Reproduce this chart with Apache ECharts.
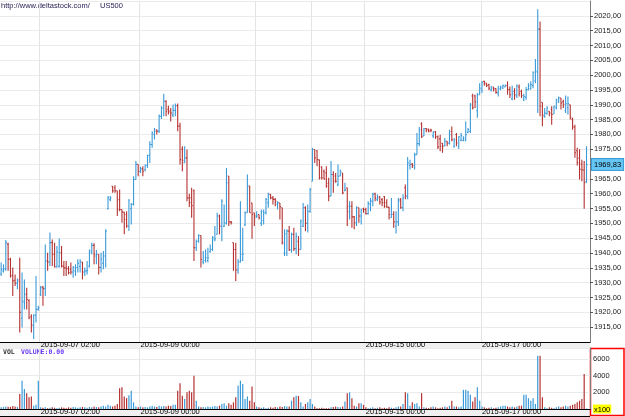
<!DOCTYPE html>
<html>
<head>
<meta charset="utf-8">
<script src="https://cdn.jsdelivr.net/npm/echarts/dist/echarts.min.js"></script>
<style>
  html, body { margin: 0; padding: 0; background: #fff; }
  #chart { width: 625px; height: 417px; }
</style>
</head>
<body>
<div id="chart"></div>
<script>
// hourly US500 bars: [open, close, low, high]
const ohlc = [
  [1933.0,1934.5,1932.3,1936.8],[1934.0,1934.8,1933.4,1936.2],[1934.5,1943.5,1934.0,1944.4],[1943.0,1937.9,1934.0,1943.5],
  [1937.9,1932.3,1931.7,1938.4],[1932.5,1930.6,1925.5,1935.1],[1930.8,1929.8,1928.9,1932.8],[1929.8,1930.5,1927.8,1931.4],
  [1931.0,1920.0,1913.2,1938.4],[1918.0,1923.8,1914.9,1933.4],[1923.5,1926.1,1921.0,1931.1],[1926.1,1924.4,1921.0,1928.3],
  [1924.0,1918.2,1917.7,1924.4],[1918.5,1915.7,1913.2,1919.4],[1915.5,1919.0,1911.0,1919.4],[1919.0,1921.0,1916.6,1932.3],
  [1921.0,1921.5,1920.5,1922.2],[1926.0,1928.3,1925.5,1928.9],[1928.5,1928.0,1922.2,1928.9],[1928.0,1937.3,1925.5,1942.9],
  [1937.3,1937.0,1934.0,1940.1],[1937.0,1943.5,1935.6,1946.9],[1943.5,1939.6,1935.6,1944.6],[1939.6,1935.4,1935.1,1943.5],
  [1935.4,1940.3,1935.0,1942.4],[1935.5,1940.1,1935.1,1944.9],[1940.1,1935.6,1935.1,1942.4],[1935.6,1935.0,1932.3,1937.3],
  [1935.0,1934.7,1932.3,1937.3],[1934.7,1933.4,1932.8,1935.6],[1934.5,1933.6,1932.8,1936.8],[1933.6,1935.1,1931.7,1935.6],
  [1934.0,1935.1,1932.3,1936.2],[1935.1,1936.5,1933.4,1937.9],[1935.5,1937.0,1933.4,1937.9],[1937.0,1933.6,1931.1,1937.0],
  [1933.6,1934.0,1932.3,1935.1],[1934.0,1934.3,1932.8,1937.3],[1935.5,1940.7,1935.1,1941.2],[1940.0,1942.6,1939.6,1943.5],
  [1942.6,1939.6,1936.2,1943.3],[1939.0,1939.6,1936.2,1941.0],[1939.6,1935.1,1932.8,1939.6],[1935.1,1937.9,1933.4,1940.1],
  [1936.5,1939.0,1934.5,1940.7],[1939.0,1947.4,1935.1,1948.0],[1955.0,1958.6,1954.7,1959.2],[1958.0,1958.6,1957.5,1959.2],
  [1962.5,1961.0,1960.3,1962.6],[1962.0,1961.0,1960.3,1962.9],[1961.0,1954.7,1952.5,1961.0],[1958.0,1954.7,1954.1,1961.4],
  [1954.7,1953.8,1950.2,1954.7],[1953.8,1951.3,1946.3,1953.8],[1953.0,1949.1,1948.5,1954.1],[1949.1,1957.9,1947.4,1958.1],
  [1955.0,1956.4,1949.6,1956.9],[1956.4,1964.8,1956.0,1965.9],[1964.8,1969.9,1964.8,1971.0],[1969.9,1967.6,1965.9,1969.9],
  [1967.5,1968.4,1967.0,1969.1],[1968.4,1967.6,1965.9,1969.3],[1968.0,1969.6,1967.6,1969.9],[1969.6,1972.9,1968.7,1973.2],
  [1972.9,1976.6,1970.4,1977.7],[1976.6,1980.5,1975.5,1981.1],[1980.0,1981.1,1978.3,1982.2],[1981.6,1981.1,1980.0,1981.6],
  [1981.1,1986.1,1980.5,1986.7],[1986.1,1988.9,1985.2,1989.5],[1988.9,1991.2,1986.1,1993.7],[1991.2,1987.8,1986.1,1991.5],
  [1988.5,1987.6,1986.7,1989.7],[1988.0,1987.2,1984.4,1988.9],[1986.5,1988.1,1985.9,1990.1],[1988.1,1989.7,1986.1,1990.4],
  [1989.7,1982.8,1981.1,1990.4],[1982.8,1971.5,1969.9,1983.9],[1975.0,1971.3,1967.6,1976.0],[1970.5,1972.1,1970.4,1976.0],
  [1972.1,1958.6,1957.5,1974.9],[1958.6,1957.0,1955.5,1960.0],[1958.6,1956.0,1951.9,1962.0],[1961.0,1941.8,1937.3,1961.4],
  [1941.8,1944.0,1940.7,1944.6],[1944.0,1945.9,1943.5,1946.3],[1945.9,1937.9,1935.1,1945.9],[1937.0,1938.4,1936.2,1940.7],
  [1937.5,1938.4,1936.8,1941.2],[1937.5,1938.4,1936.8,1941.8],[1940.5,1941.2,1940.1,1942.9],[1941.2,1945.2,1940.7,1945.7],
  [1944.5,1944.8,1944.0,1949.1],[1946.3,1952.5,1946.3,1953.6],[1952.5,1949.1,1946.3,1953.0],[1949.1,1957.5,1944.0,1958.1],
  [1949.0,1950.2,1948.8,1956.4],[1950.0,1963.7,1949.6,1968.7],[1966.0,1950.5,1949.1,1966.0],[1950.5,1950.2,1949.6,1950.8],
  [1943.5,1941.2,1934.0,1943.5],[1941.2,1934.3,1930.6,1943.5],[1934.3,1937.0,1933.0,1938.0],[1937.0,1939.6,1936.8,1957.5],
  [1937.5,1939.6,1937.3,1948.5],[1949.5,1953.6,1949.1,1954.1],[1953.6,1962.6,1953.6,1966.5],[1962.6,1953.6,1953.6,1962.6],
  [1956.9,1953.0,1944.8,1956.9],[1953.6,1952.5,1949.1,1953.6],[1952.0,1952.5,1951.9,1954.1],[1953.0,1951.9,1951.3,1953.0],
  [1950.0,1954.1,1949.1,1954.7],[1951.0,1953.6,1949.6,1954.7],[1953.6,1958.1,1953.0,1958.6],[1957.0,1959.8,1955.3,1960.3],
  [1959.8,1958.6,1958.1,1959.8],[1958.6,1958.1,1956.4,1959.2],[1958.1,1957.5,1955.8,1958.6],[1956.5,1957.0,1954.7,1957.5],
  [1956.9,1955.6,1951.3,1956.9],[1955.3,1943.5,1942.9,1955.3],[1940.0,1946.5,1939.0,1948.0],[1940.0,1947.4,1939.0,1948.0],
  [1947.4,1941.2,1940.7,1949.1],[1941.0,1946.3,1940.1,1946.9],[1946.3,1941.5,1940.7,1948.5],[1941.5,1945.7,1939.6,1946.9],
  [1944.0,1941.2,1939.0,1945.7],[1941.2,1950.8,1941.2,1951.3],[1949.0,1955.3,1948.8,1956.9],[1955.3,1950.0,1947.4,1955.8],
  [1950.0,1954.1,1946.9,1956.4],[1954.0,1961.4,1953.6,1962.0],[1964.2,1974.9,1964.2,1975.5],[1974.9,1972.1,1970.4,1974.9],
  [1974.5,1971.5,1969.3,1974.7],[1971.5,1965.4,1964.8,1971.5],[1969.0,1965.4,1964.8,1969.3],[1967.5,1965.0,1964.8,1968.2],
  [1967.0,1962.6,1962.0,1969.3],[1963.5,1959.2,1957.5,1965.4],[1959.2,1966.5,1959.2,1971.0],[1966.5,1964.2,1960.3,1967.6],
  [1966.0,1964.2,1963.7,1967.0],[1963.0,1965.9,1962.6,1969.9],[1966.0,1967.6,1965.9,1968.2],[1967.0,1960.3,1959.8,1967.0],
  [1961.0,1961.4,1960.9,1963.7],[1962.0,1955.8,1949.1,1962.0],[1954.0,1955.8,1951.3,1957.5],[1955.8,1952.2,1948.5,1957.5],
  [1952.2,1950.2,1948.0,1952.5],[1950.2,1955.3,1949.1,1955.8],[1955.3,1952.5,1950.2,1955.3],[1952.5,1954.5,1949.6,1954.9],
  [1955.0,1954.7,1953.6,1955.3],[1954.7,1953.3,1953.0,1955.3],[1953.3,1956.7,1953.0,1957.5],[1956.5,1957.5,1954.1,1958.6],
  [1957.5,1959.8,1955.8,1960.3],[1960.0,1958.6,1957.5,1960.3],[1958.0,1958.6,1957.5,1959.8],[1959.0,1957.2,1956.4,1959.2],
  [1958.0,1957.0,1955.8,1958.6],[1959.0,1955.8,1955.3,1959.2],[1957.0,1955.5,1955.3,1958.1],[1955.5,1953.0,1951.3,1955.5],
  [1952.0,1953.0,1951.9,1958.6],[1953.0,1950.5,1948.5,1954.1],[1949.0,1950.5,1946.6,1954.1],[1950.5,1957.5,1949.1,1958.6],
  [1958.0,1955.3,1954.9,1958.6],[1955.3,1958.6,1954.1,1959.8],[1962.0,1959.2,1958.1,1963.1],[1959.2,1970.4,1958.1,1972.4],
  [1969.5,1969.9,1968.2,1971.5],[1970.0,1969.5,1968.7,1970.4],[1969.0,1973.2,1968.2,1973.8],[1973.2,1976.9,1973.2,1980.5],
  [1976.9,1981.6,1976.0,1982.5],[1983.5,1979.2,1978.8,1984.1],[1979.5,1981.9,1979.5,1982.2],[1982.0,1981.4,1980.7,1982.2],
  [1981.8,1981.1,1980.7,1981.9],[1981.5,1981.4,1980.7,1981.9],[1979.5,1980.7,1978.8,1981.1],[1981.0,1979.2,1978.5,1981.1],
  [1979.2,1975.8,1975.1,1979.6],[1978.5,1976.0,1974.3,1979.9],[1977.0,1976.0,1973.8,1977.1],[1976.2,1977.7,1976.0,1978.8],
  [1977.7,1977.1,1976.0,1977.7],[1977.0,1979.9,1976.6,1981.6],[1981.0,1978.2,1977.7,1982.7],[1976.0,1978.2,1975.5,1978.8],
  [1980.0,1977.1,1976.0,1980.5],[1976.0,1979.2,1975.1,1979.4],[1978.0,1979.6,1977.7,1980.5],[1978.0,1978.8,1977.7,1979.4],
  [1978.0,1979.9,1977.7,1984.4],[1980.7,1981.6,1980.5,1982.2],[1981.0,1990.0,1980.5,1990.6],[1993.0,1989.0,1988.4,1993.7],
  [1993.0,1991.0,1988.9,1993.4],[1988.0,1993.4,1985.6,1994.0],[1993.4,1995.6,1993.4,1997.3],[1995.0,1997.6,1994.0,1997.9],
  [1997.9,1997.0,1996.4,1998.1],[1997.3,1996.5,1996.0,1997.3],[1996.8,1995.6,1994.9,1997.1],[1995.0,1995.6,1994.5,1996.4],
  [1996.0,1995.3,1994.5,1996.0],[1995.5,1994.2,1993.7,1995.6],[1994.0,1995.6,1992.8,1996.4],[1995.3,1996.0,1994.9,1996.4],
  [1995.6,1996.4,1995.3,1996.8],[1996.0,1996.4,1996.0,1996.8],[1996.5,1995.1,1993.4,1997.9],[1995.1,1993.4,1992.3,1996.2],
  [1992.0,1993.7,1991.5,1996.4],[1994.5,1993.4,1991.7,1995.6],[1993.0,1996.4,1992.3,1996.8],[1996.0,1993.7,1992.8,1996.8],
  [1994.5,1993.1,1992.3,1995.1],[1992.0,1992.8,1991.2,1993.7],[1992.5,1995.1,1991.7,1996.0],[1995.1,1996.4,1994.9,1997.3],
  [1995.5,1996.8,1995.1,1997.9],[1996.5,2000.9,1995.6,2001.3],[1998.0,2001.3,1997.3,2005.4],[2001.0,2015.5,1987.2,2022.2],
  [2015.5,1989.5,1986.1,2018.1],[1990.8,1986.5,1982.8,1990.8],[1986.0,1987.2,1985.6,1988.9],[1987.0,1988.9,1986.7,1989.5],
  [1987.8,1987.2,1986.1,1987.8],[1988.5,1986.7,1983.3,1989.5],[1987.0,1989.5,1987.0,1989.7],[1989.0,1991.7,1988.4,1992.0],
  [1991.0,1992.3,1990.6,1992.8],[1992.3,1990.6,1988.4,1992.3],[1991.0,1990.0,1988.9,1991.7],[1988.0,1990.4,1987.2,1993.1],
  [1989.0,1990.4,1986.7,1992.8],[1990.0,1985.6,1985.0,1990.0],[1985.0,1982.5,1981.6,1985.6],[1982.5,1973.8,1972.1,1983.3],
  [1974.5,1970.5,1969.5,1975.5],[1972.0,1968.2,1964.8,1975.0],[1970.0,1968.0,1964.2,1971.5],[1968.0,1963.7,1954.9,1971.0],
  [1964.0,1969.83,1963.7,1976.0]
];

// volume per bar, in hundreds (axis shows x100)
const volume = [
  200,250,300,280,250,350,300,250,1800,3400,2400,1900,1400,1500,400,500,3400,
  200,150,200,100,150,200,150,100,150,200,150,100,200,150,250,200,150,200,250,200,
  150,250,200,300,250,200,300,400,300,500,400,300,400,600,
  2500,2600,1500,1300,1650,2200,800,300,
  200,300,200,250,200,300,400,300,250,400,300,350,300,400,350,500,500,
  2200,3100,1600,1200,2000,2200,2000,4000,1000,
  300,200,250,200,300,250,300,350,300,400,600,700,400,700,500,
  800,1400,2800,3400,3000,1200,1500,1000,2700,800,
  300,200,150,200,100,150,200,150,250,200,300,250,350,300,300,
  1000,1400,1600,1550,800,300,600,800,1200,600,300,
  100,100,150,100,100,100,200,250,300,250,200,300,
  900,1900,2000,1300,400,300,700,700,500,
  200,100,150,200,100,150,200,100,150,100,200,150,100,200,300,
  300,600,2000,1900,400,800,600,700,300,1900,
  200,150,100,200,300,200,100,150,200,300,200,400,
  1000,300,300,200,300,
  2300,2300,2200,1700,900,1400,2600,1000,300,
  200,100,150,200,100,150,200,300,400,400,300,200,300,200,300,400,
  400,1700,1700,1300,1000,1300,600,6400,6400,1400,
  200,100,200,150,100,200,300,200,300,
  400,300,400,500,600,800,1000,1200,4200,50
];

// time axis: bar index where a label / grid line sits
const labelIdx = [17, 60, 157, 207];
const labelText = ['2015-09-07 02:00', '2015-09-09 00:00', '2015-09-15 00:00', '2015-09-17 00:00'];
const gridIdx = [17, 60, 110, 134, 157, 207];

const UP = '#3a9ad8';
const DOWN = '#b53131';
const FONT = 'Liberation Sans';

// one empty slot after the last bar leaves the small right margin
const categories = ohlc.map((d, i) => String(i)).concat(['']);
const lastClose = ohlc[ohlc.length - 1][1];

function labelFor(idx) {
  const k = labelIdx.indexOf(idx);
  return k >= 0 ? labelText[k] : '';
}

function renderOHLC(params, api) {
  const i = api.value(0);
  const o = api.coord([i, api.value(1)]);
  const c = api.coord([i, api.value(2)]);
  const l = api.coord([i, api.value(3)]);
  const h = api.coord([i, api.value(4)]);
  const w = api.size([1, 0])[0] * 0.45;
  const color = api.value(2) >= api.value(1) ? UP : DOWN;
  const st = { stroke: color, lineWidth: 1.1 };
  return {
    type: 'group',
    children: [
      { type: 'line', shape: { x1: h[0], y1: h[1], x2: l[0], y2: l[1] }, style: st },
      { type: 'line', shape: { x1: o[0] - w, y1: o[1], x2: o[0], y2: o[1] }, style: st },
      { type: 'line', shape: { x1: c[0], y1: c[1], x2: c[0] + w, y2: c[1] }, style: st }
    ]
  };
}

function timeAxis(gi) {
  return {
    type: 'category',
    gridIndex: gi,
    data: categories,
    boundaryGap: true,
    axisLine: { lineStyle: { color: '#000', width: 1 } },
    axisTick: { show: false },
    axisLabel: {
      interval: (idx) => labelIdx.includes(idx),
      formatter: (v, idx) => labelFor(idx),
      align: 'left',
      margin: -1,
      fontFamily: FONT,
      fontSize: 7.5,
      color: '#000'
    },
    splitLine: {
      show: true,
      interval: (idx) => gridIdx.includes(idx),
      lineStyle: { color: '#e4e4e4', width: 1 }
    }
  };
}

const chart = echarts.init(document.getElementById('chart'), null, { renderer: 'canvas' });

chart.setOption({
  animation: false,
  backgroundColor: '#fff',
  textStyle: { fontFamily: FONT },
  grid: [
    { left: 0, right: 35, top: 1, height: 341 },
    { left: 0, right: 35, top: 348, height: 61 }
  ],
  xAxis: [timeAxis(0), timeAxis(1)],
  yAxis: [
    {
      type: 'value',
      gridIndex: 0,
      position: 'right',
      min: 1910,
      max: 2025,
      interval: 5,
      axisLine: { show: true, lineStyle: { color: '#7c7c7c' } },
      axisTick: { show: true, length: 3, lineStyle: { color: '#555' } },
      axisLabel: {
        showMinLabel: false,
        showMaxLabel: false,
        margin: 4,
        fontFamily: FONT,
        fontSize: 7.5,
        color: '#222',
        formatter: (v) => v.toFixed(2).replace('.', ',')
      },
      splitLine: { lineStyle: { color: '#ebebeb' } }
    },
    {
      type: 'value',
      gridIndex: 1,
      position: 'right',
      min: 0,
      max: 7320,
      interval: 2000,
      axisLine: { show: true, lineStyle: { color: '#7c7c7c' } },
      axisTick: { show: false },
      axisLabel: {
        margin: 3,
        fontFamily: FONT,
        fontSize: 7.5,
        color: '#222',
        formatter: (v) => (v === 0 ? '{x|x100}' : (v % 2000 === 0 ? String(v) : '')),
        rich: {
          x: { backgroundColor: '#ffff00', color: '#000', fontSize: 7.5, fontFamily: FONT, padding: [1, 1, 0, 1] }
        }
      },
      splitLine: { lineStyle: { color: '#ebebeb' } }
    }
  ],
  series: [
    {
      type: 'custom',
      xAxisIndex: 0,
      yAxisIndex: 0,
      renderItem: renderOHLC,
      encode: { x: 0, y: [1, 2, 3, 4] },
      data: ohlc.map((d, i) => [i].concat(d)),
      silent: true,
      markLine: {
        silent: true,
        symbol: 'none',
        lineStyle: { color: 'transparent', width: 0 },
        data: [{ yAxis: lastClose }],
        label: {
          position: 'end',
          distance: 2,
          formatter: (p) => Number(p.value).toFixed(2).replace('.', ','),
          fontFamily: FONT,
          fontSize: 7.5,
          color: '#000',
          backgroundColor: '#66c6f3',
          borderColor: '#3a9ad8',
          borderWidth: 1,
          padding: [2, 2, 1, 2]
        }
      }
    },
    {
      type: 'bar',
      xAxisIndex: 1,
      yAxisIndex: 1,
      barWidth: 1.2,
      silent: true,
      data: volume.map((v, i) => ({
        value: v,
        itemStyle: { color: ohlc[i][1] >= ohlc[i][0] ? UP : DOWN }
      }))
    }
  ],
  graphic: [
    { type: 'rect', z: -1, shape: { x: 0, y: 342, width: 590, height: 6 }, style: { fill: '#f0f0f0' } },
    { type: 'rect', z: -1, shape: { x: 0, y: 409, width: 590, height: 7 }, style: { fill: '#f0f0f0' } },
    { type: 'line', shape: { x1: 0, y1: 416.5, x2: 590, y2: 416.5 }, style: { stroke: '#000', lineWidth: 1 } },
    { type: 'text', left: 1, top: 2, style: { text: 'http://www.deltastock.com/', font: '7.5px "Liberation Sans"', fill: '#2b2457' } },
    { type: 'text', left: 100, top: 2, style: { text: 'US500', font: '7.5px "Liberation Sans"', fill: '#2b2457' } },
    { type: 'text', left: 3, top: 349, style: { text: 'VOL', font: 'bold 6.5px "DejaVu Sans Mono"', fill: '#333' } },
    { type: 'text', left: 21, top: 349, style: { text: 'VOLUME:0.00', font: 'bold 6.5px "DejaVu Sans Mono"', fill: '#6a3cf0' } },
    { type: 'rect', shape: { x: 590.5, y: 348.5, width: 33.5, height: 67 }, style: { fill: 'none', stroke: '#ff0000', lineWidth: 1.5 } }
  ]
});
</script>
</body>
</html>
